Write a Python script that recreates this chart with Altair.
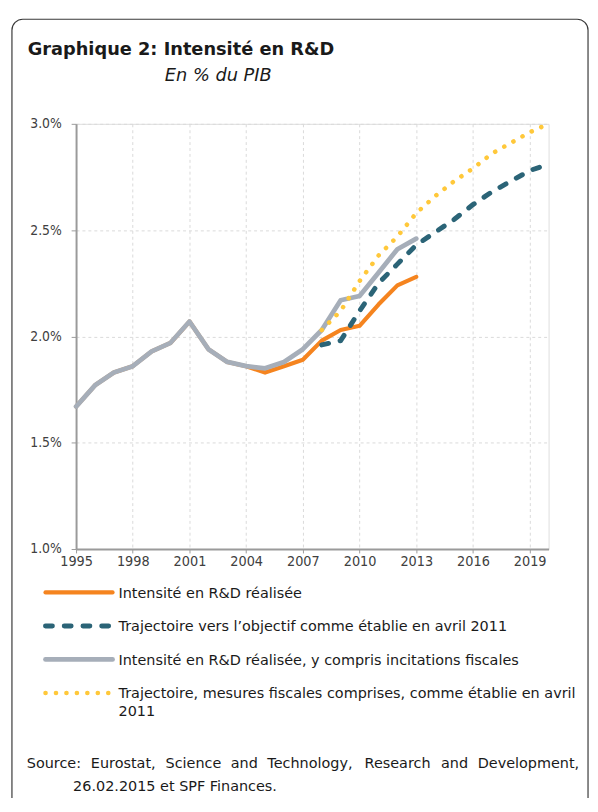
import altair as alt
import pandas as pd

# ---- data ----
years_hist = list(range(1995, 2014))
realisee = [1.67, 1.77, 1.83, 1.86, 1.93, 1.97, 2.07, 1.94, 1.88, 1.86,
            1.83, 1.86, 1.89, 1.98, 2.03, 2.05, 2.15, 2.24, 2.28]
realisee_fisc = [1.67, 1.77, 1.83, 1.86, 1.93, 1.97, 2.07, 1.94, 1.88, 1.86,
                 1.85, 1.88, 1.94, 2.03, 2.17, 2.19, 2.30, 2.41, 2.46]
years_traj = list(range(2008, 2021))
trajectoire = [1.96, 1.98, 2.12, 2.25, 2.34, 2.43, 2.49, 2.55, 2.62, 2.68, 2.73, 2.78, 2.81]
trajectoire_fisc = [2.03, 2.12, 2.26, 2.38, 2.47, 2.58, 2.66, 2.73, 2.79, 2.86, 2.91, 2.96, 3.00]

x_ticks = list(range(1995, 2020, 3))
y_ticks = [1.0, 1.5, 2.0, 2.5, 3.0]

series_names = [
    "Intensité en R&D réalisée",
    "Trajectoire vers l\u2019objectif comme établie en avril 2011",
    "Intensité en R&D réalisée, y compris incitations fiscales",
    "Trajectoire, mesures fiscales comprises, comme établie en avril\n2011",
]
series_colors = ["#F5841F", "#2B6477", "#A6AEB9", "#FFC83A"]

title_text = "Graphique 2: Intensité en R&D"
subtitle_text = "En % du PIB"
source_line1 = "Source: Eurostat, Science and Technology, Research and Development,"
source_line2 = "26.02.2015 et SPF Finances."

FONT = "DejaVu Sans"
AXFONT = "DejaVu Sans Condensed, DejaVu Sans"
TXT = "#1a1a1a"
FS = 14.6

W, H = 479, 431

xscale = alt.Scale(domain=[1995, 2020], nice=False, zero=False)
yscale = alt.Scale(domain=[1.0, 3.0], nice=False, zero=False)

df_hist = pd.DataFrame({"year": years_hist, "real": realisee, "fisc": realisee_fisc})
df_traj = pd.DataFrame({"year": years_traj, "traj": trajectoire, "trajf": trajectoire_fisc})

xaxis = alt.Axis(values=x_ticks, format="d", grid=True, gridDash=[3, 3], gridColor="#d9d9d9",
                 domainColor="#9a9a9a", domainWidth=2, tickColor="#9a9a9a", tickSize=4,
                 labelFont=AXFONT, labelFontSize=14.5, labelColor="#404040", labelPadding=2,
                 labelFlush=False, labelOverlap=False)
yaxis = alt.Axis(values=y_ticks, labelExpr="format(datum.value, '.1f') + '%'", grid=True,
                 gridDash=[3, 3], gridColor="#d9d9d9", domainColor="#9a9a9a", domainWidth=2,
                 tickColor="#9a9a9a", tickSize=5, labelFont=AXFONT, labelFontSize=14,
                 labelColor="#404040", labelPadding=10)

l_real = alt.Chart(df_hist).mark_line(color=series_colors[0], strokeWidth=4.2, strokeCap="round",
                                      strokeJoin="round").encode(
    x=alt.X("year:Q", scale=xscale, axis=xaxis, title=None),
    y=alt.Y("real:Q", scale=yscale, axis=yaxis, title=None))
l_fisc = alt.Chart(df_hist).mark_line(color=series_colors[2], strokeWidth=4.8, strokeCap="round",
                                      strokeJoin="round").encode(
    x=alt.X("year:Q", scale=xscale, title=None),
    y=alt.Y("fisc:Q", scale=yscale, title=None))
l_traj = alt.Chart(df_traj).mark_line(color=series_colors[1], strokeWidth=5, strokeCap="round",
                                      strokeDash=[7, 12]).encode(
    x=alt.X("year:Q", scale=xscale, title=None),
    y=alt.Y("traj:Q", scale=yscale, title=None))
l_trajf = alt.Chart(df_traj).mark_line(color=series_colors[3], strokeWidth=4.6, strokeCap="round",
                                       strokeDash=[0.1, 10.5]).encode(
    x=alt.X("year:Q", scale=xscale, title=None),
    y=alt.Y("trajf:Q", scale=yscale, title=None))

one = pd.DataFrame({"k": [0]})


def text_layer(txt, x, y, size=FS, weight="normal", style="normal", align="left"):
    return alt.Chart(one).mark_text(font=FONT, fontSize=size, fontWeight=weight, fontStyle=style,
                                    align=align, baseline="alphabetic", color=TXT,
                                    lineBreak="\n", lineHeight=18).encode(
        x=alt.value(x), y=alt.value(y), text=alt.value(txt))


border = alt.Chart(one).mark_rect(fillOpacity=0, stroke="#3a3a3a", strokeWidth=1.2,
                                  cornerRadius=11).encode(
    x=alt.value(-65), y=alt.value(-106), x2=alt.value(519), y2=alt.value(720))

layers = [border, l_real, l_traj, l_fisc, l_trajf,
          text_layer(title_text, -49, -70, size=18, weight="bold"),
          text_layer(subtitle_text, 90, -43, size=18, style="italic")]

# legend
leg_y = [475, 509, 543, 577]
leg_dash = [None, [7, 12], None, [0.1, 10.5]]
leg_w = [4.2, 5, 4.8, 4.6]
for i, name in enumerate(series_names):
    kw = dict(color=series_colors[i], strokeWidth=leg_w[i], strokeCap="round")
    if leg_dash[i] is not None:
        kw["strokeDash"] = leg_dash[i]
    layers.append(alt.Chart(one).mark_rule(**kw).encode(
        x=alt.value(-31), x2=alt.value(37), y=alt.value(leg_y[i])))
    layers.append(text_layer(name, 43, leg_y[i] + 5.5))

# justified source line (approximate DejaVu Sans advance widths, 1/2048 em)
ADV = {" ": 651, "a": 1255, "b": 1300, "c": 1126, "d": 1300, "e": 1260, "f": 721, "g": 1300,
       "h": 1298, "i": 569, "j": 569, "k": 1186, "l": 569, "m": 1995, "n": 1298, "o": 1253,
       "p": 1300, "q": 1300, "r": 842, "s": 1067, "t": 803, "u": 1298, "v": 1212, "w": 1675,
       "x": 1212, "y": 1212, "z": 1075, "S": 1300, "E": 1294, "T": 1251, "R": 1423, "D": 1577,
       ":": 690, ",": 651, ".": 651}


def tw(word):
    return sum(ADV.get(ch, 1250) for ch in word) / 2048 * FS


words = source_line1.split(" ")
x_start, x_end = 27 - 77, 587 - 77
gap = (x_end - x_start - sum(tw(w) for w in words)) / (len(words) - 1)
xpos = x_start
for j, w in enumerate(words):
    if j == len(words) - 1:
        layers.append(text_layer(w, x_end, 653, align="right"))
    else:
        layers.append(text_layer(w, xpos, 653))
    xpos += tw(w) + gap
layers.append(text_layer(source_line2, -3, 676))

chart = alt.layer(*layers).properties(
    width=W, height=H,
    padding={"left": 69, "top": 112, "right": 42, "bottom": 247},
    autosize=alt.AutoSizeParams(type="none"),
).configure_view(strokeWidth=0).configure(background="white")

chart.save("out.html", embed_options={"renderer": "svg", "actions": False})
